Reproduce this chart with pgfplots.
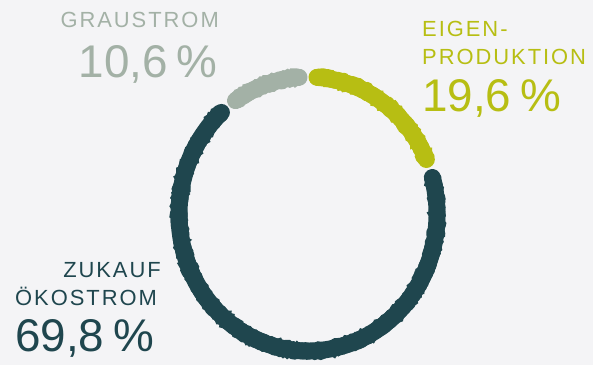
\documentclass[border=0pt]{standalone}
\usepackage{pgfplots}
\pgfplotsset{compat=1.18}
\usepackage{pgfplotstable}
\usepackage{fontspec}
\setmainfont{Liberation Sans}
\newfontfamily\labfont[LetterSpace=9]{Liberation Sans}
\usetikzlibrary{decorations.pathmorphing}
\definecolor{bg}{HTML}{F4F4F6}
\definecolor{cgray}{HTML}{A3B1A6}
\definecolor{colive}{HTML}{B7BE13}
\definecolor{cteal}{HTML}{1F464E}

\pgfplotstableread{
segment value
Eigenproduktion 19.6
ZukaufOekostrom 69.8
Graustrom 10.6
}\shares

\newcommand\ringseg[5]{% color, start, end, width, seed
  \draw[#1, line width=#4, line cap=round] (axis cs:308,151) ++(#2:129bp and 137bp)
     arc[start angle=#2, end angle=#3, x radius=129bp, y radius=137bp];
  \pgfmathsetseed{#5}
  \draw[#1, line width=4bp, line cap=round, decorate, decoration={random steps, segment length=2.2pt, amplitude=1.2pt}]
     (axis cs:308,151) ++(#2:135.5bp and 143.5bp)
     arc[start angle=#2, end angle=#3, x radius=135.5bp, y radius=143.5bp];
  \draw[#1, line width=4bp, line cap=round, decorate, decoration={random steps, segment length=2.2pt, amplitude=1.2pt}]
     (axis cs:308,151) ++(#2:122.5bp and 130.5bp)
     arc[start angle=#2, end angle=#3, x radius=122.5bp, y radius=130.5bp];
}

\begin{document}
\begin{tikzpicture}
\pgfplotstablegetelem{0}{value}\of\shares \let\vEigen\pgfplotsretval
\pgfplotstablegetelem{1}{value}\of\shares \let\vZukauf\pgfplotsretval
\pgfplotstablegetelem{2}{value}\of\shares \let\vGrau\pgfplotsretval
\pgfmathsetmacro\gap{4}
\pgfmathsetmacro\aA{90}
\pgfmathsetmacro\aB{\aA-3.6*\vEigen}
\pgfmathsetmacro\aC{\aB-3.6*\vZukauf}
\pgfmathsetmacro\aD{\aC-3.6*\vGrau}
\pgfmathsetmacro\sA{\aA-\gap}\pgfmathsetmacro\eA{\aB+\gap}
\pgfmathsetmacro\sB{\aB-\gap}\pgfmathsetmacro\eB{\aC+\gap}
\pgfmathsetmacro\sC{\aC-\gap}\pgfmathsetmacro\eC{\aD+\gap}
\begin{axis}[width=593bp, height=365bp, scale only axis, xmin=0, xmax=593, ymin=0, ymax=365, hide axis, clip=false]
\fill[bg] (axis cs:0,0) rectangle (axis cs:593,365);
\ringseg{colive}{\sA}{\eA}{17bp}{11}
\ringseg{cteal}{\sB}{\eB}{17bp}{23}
\ringseg{cgray}{\sC}{\eC}{17bp}{41}
% labels
\node[anchor=base east, inner sep=0pt, text=cgray] at (axis cs:219,337) {\fontsize{22}{24}\selectfont\labfont GRAUSTROM};
\node[anchor=base east, inner sep=0pt, text=cgray] at (axis cs:218,287) {\fontsize{46}{50}\selectfont 10,6\hspace{0.2em}\%};
\node[anchor=base west, inner sep=0pt, text=colive] at (axis cs:422,328) {\fontsize{22}{24}\selectfont\labfont EIGEN-};
\node[anchor=base west, inner sep=0pt, text=colive] at (axis cs:422,300) {\fontsize{22}{24}\selectfont\labfont PRODUKTION};
\node[anchor=base west, inner sep=0pt, text=colive] at (axis cs:422,253) {\fontsize{46}{50}\selectfont 19,6\hspace{0.2em}\%};
\node[anchor=base east, inner sep=0pt, text=cteal] at (axis cs:161,87) {\fontsize{22}{24}\selectfont\labfont ZUKAUF};
\node[anchor=base west, inner sep=0pt, text=cteal] at (axis cs:15,59) {\fontsize{22}{24}\selectfont\labfont ÖKOSTROM};
\node[anchor=base west, inner sep=0pt, text=cteal] at (axis cs:15,13) {\fontsize{46}{50}\selectfont 69,8\hspace{0.2em}\%};
\end{axis}
\end{tikzpicture}
\end{document}
